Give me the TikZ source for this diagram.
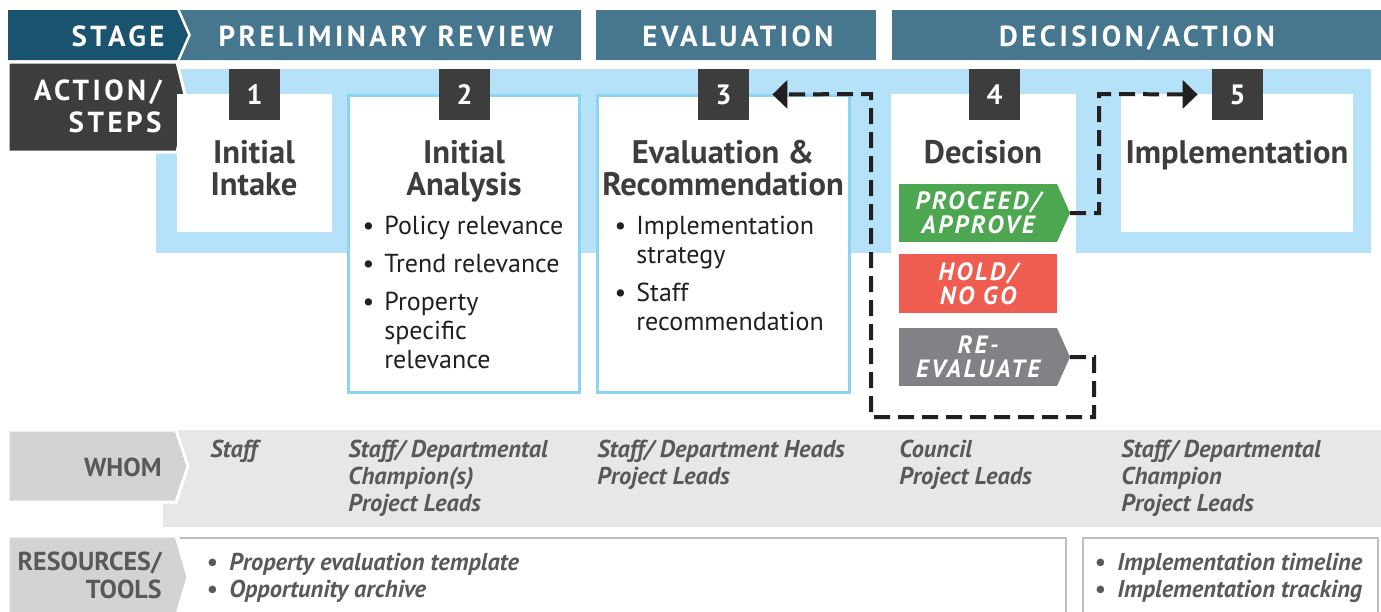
\documentclass[tikz,border=0pt]{standalone}
\usepackage{fontspec}
\setmainfont{PT Sans}
\usetikzlibrary{arrows.meta,calc,positioning}
\definecolor{stageblue}{HTML}{19536F}
\definecolor{headblue}{HTML}{46778F}
\definecolor{darkgrey}{HTML}{3D3D3E}
\definecolor{bandblue}{HTML}{B5E2F8}
\definecolor{edgeblue}{HTML}{8CD4F4}
\definecolor{gogreen}{HTML}{4CA750}
\definecolor{holdred}{HTML}{EF5C50}
\definecolor{evalgrey}{HTML}{808285}
\definecolor{labelgrey}{HTML}{D1D3D4}
\definecolor{bandgrey}{HTML}{E6E7E8}
\definecolor{textgrey}{HTML}{58595B}
\definecolor{rulegrey}{HTML}{BCBEC0}
\definecolor{inkblack}{HTML}{231F20}

\begin{document}
\begin{tikzpicture}[
  x=0.5pt, y=-0.5pt,
  headtext/.style={text=white, inner sep=0, font=\fontsize{14.5}{16}\selectfont\bfseries\addfontfeature{LetterSpace=12}},
  stepbox/.style={fill=white, inner sep=0, outer sep=0},
  framebox/.style={draw=edgeblue, line width=1.5pt, fill=white, inner sep=0, outer sep=0},
  stepnum/.style={fill=darkgrey, text=white, minimum size=25.5pt, inner sep=0, font=\fontsize{14}{16}\selectfont\bfseries},
  steptitle/.style={text=darkgrey, align=center, anchor=base, inner sep=0, font=\fontsize{16.3}{16}\selectfont\bfseries},
  itemtext/.style={text=inkblack, align=left, anchor=base west, inner sep=0, font=\fontsize{13}{14.5}\selectfont},
  choice/.style={minimum width=79pt, minimum height=29pt, inner sep=0, outer sep=0, text=white, align=center, font=\fontsize{12.5}{12}\selectfont\bfseries\itshape\addfontfeature{LetterSpace=10}},
  sidelabel/.style={text=textgrey, align=right, anchor=base east, inner sep=0, font=\fontsize{13}{14}\selectfont\bfseries},
  whotext/.style={text=textgrey, align=left, anchor=base west, inner sep=0, font=\fontsize{12.2}{13.5}\selectfont\bfseries\itshape},
  flowline/.style={draw=inkblack, line width=2pt, dash pattern=on 8pt off 4pt, -{Triangle[length=7.5pt,width=14pt]}}
]
  \useasboundingbox (0,0) rectangle (1381,611);
  \clip (0,0) rectangle (1381,611);

  % light blue band behind the steps
  \fill[bandblue] (156,69) rectangle (1371,253);

  % stage row
  \filldraw[fill=darkgrey, draw=white, line width=1.5pt] (8,62) -- (177,62) -- (188,107) -- (177,152) -- (8,152) -- cycle;
  \fill[stageblue] (8,10) -- (177,10) -- (188,35) -- (177,60) -- (8,60) -- cycle;
  \fill[headblue] (180,10) -- (581,10) -- (581,60) -- (180,60) -- (191,35) -- cycle;
  \fill[headblue] (596,10) rectangle (876,60);
  \fill[headblue] (892,10) rectangle (1381,60);

  \node[headtext, anchor=base east] (stage) at (165,46) {STAGE};
  \node[headtext, anchor=base] (prelim) at (386,46) {PRELIMINARY REVIEW};
  \node[headtext, anchor=base] (evalhead) at (738,46) {EVALUATION};
  \node[headtext, anchor=base] (dechead) at (1137,46) {DECISION/ACTION};
  \node[headtext, anchor=base east, align=right] (actions) at (162,132) {ACTION/\\STEPS};

  % step boxes
  \node[stepbox, minimum width=77.5pt, minimum height=69pt] (box1) at (254.5,163) {};
  \node[framebox, minimum width=115.5pt, minimum height=148.5pt] (box2) at (464,244) {};
  \node[framebox, minimum width=126pt, minimum height=148.5pt] (box3) at (723.5,244) {};
  \node[stepbox, minimum width=92.5pt, minimum height=80pt] (box4) at (983.5,174) {};
  \node[stepbox, minimum width=116pt, minimum height=69pt] (box5) at (1237,163) {};

  \node[stepnum] (num1) at (254.5,94.5) {1};
  \node[stepnum] (num2) at (464.5,94.5) {2};
  \node[stepnum] (num3) at (723.5,94.5) {3};
  \node[stepnum] (num4) at (994.5,94.5) {4};
  \node[stepnum] (num5) at (1237.5,94.5) {5};

  \node[steptitle] (title1) at (254,195) {Initial\\Intake};
  \node[steptitle] (title2) at (464,195) {Initial\\Analysis};
  \node[steptitle] (title3) at (723,195) {Evaluation \&\\Recommendation};
  \node[steptitle] (title4) at (983,163) {Decision};
  \node[steptitle] (title5) at (1237,163) {Implementation};

  \node[itemtext] (item21) at (384,234) {\llap{\textbullet\hspace{5pt}}Policy relevance};
  \node[itemtext] (item22) at (384,272) {\llap{\textbullet\hspace{5pt}}Trend relevance};
  \node[itemtext] (item23) at (384,368) {\llap{\textbullet\hspace{5pt}}Property\\specific\\relevance};
  \node[itemtext] (item31) at (636,263) {\llap{\textbullet\hspace{5pt}}Implementation\\strategy};
  \node[itemtext] (item32) at (636,330) {\llap{\textbullet\hspace{5pt}}Staff\\recommendation};

  % decision outcomes
  \node[choice, fill=gogreen] (proceed) at (978,213) {PROCEED/\\APPROVE};
  \coordinate (proceedtip) at ($(proceed.east)+(13,0)$);
  \fill[gogreen] (proceed.north east) -- (proceedtip) -- (proceed.south east) -- cycle;
  \node[choice, fill=holdred, minimum height=29.5pt] (hold) at (978,283.5) {HOLD/\\NO GO};
  \node[choice, fill=evalgrey] (reeval) at (978,357) {RE-\\EVALUATE};
  \coordinate (reevaltip) at ($(reeval.east)+(13,0)$);
  \fill[evalgrey] (reeval.north east) -- (reevaltip) -- (reeval.south east) -- cycle;

  % dashed connectors
  \coordinate (loopright) at (1094,417);
  \coordinate (loopleft) at (871,94);
  \coordinate (backend) at ($(num3.east)+(23,0)$);
  \draw[flowline] (reevaltip) -| (loopright) -| (loopleft) -- (backend);
  \coordinate (goup) at (1099,94);
  \coordinate (goend) at ($(num5.west)+(-14,0)$);
  \draw[flowline] (proceedtip) -| (goup) -- (goend);

  % whom row
  \fill[bandgrey] (163,430) rectangle (1381,527);
  \filldraw[fill=labelgrey, draw=white, line width=1.5pt] (8,430) -- (176,430) -- (188,466) -- (176,502) -- (8,502) -- cycle;
  \node[sidelabel] (whom) at (162,476) {WHOM};
  \node[whotext] (who1) at (210,457) {Staff};
  \node[whotext] (who2) at (348,511) {Staff/ Departmental\\Champion(s)\\Project Leads};
  \node[whotext] (who3) at (597,484) {Staff/ Department Heads\\Project Leads};
  \node[whotext] (who4) at (899,484) {Council\\Project Leads};
  \node[whotext] (who5) at (1121,511) {Staff/ Departmental\\Champion\\Project Leads};

  % resources row
  \filldraw[fill=labelgrey, draw=white, line width=1.5pt] (8,536) -- (176,536) -- (188,577) -- (176,618) -- (8,618) -- cycle;
  \draw[rulegrey, line width=1.2pt] (180,538) -| (1066,615);
  \draw[rulegrey, line width=1.2pt] (1083,615) |- (1378,538) -- (1378,615);
  \node[sidelabel] (tools) at (162,598) {RESOURCES/\\TOOLS};
  \node[whotext] (res1) at (229,597) {\llap{\textbullet\hspace{6pt}}Property evaluation template\\\llap{\textbullet\hspace{6pt}}Opportunity archive};
  \node[whotext] (res2) at (1117,597) {\llap{\textbullet\hspace{6pt}}Implementation timeline\\\llap{\textbullet\hspace{6pt}}Implementation tracking};
\end{tikzpicture}
\end{document}
